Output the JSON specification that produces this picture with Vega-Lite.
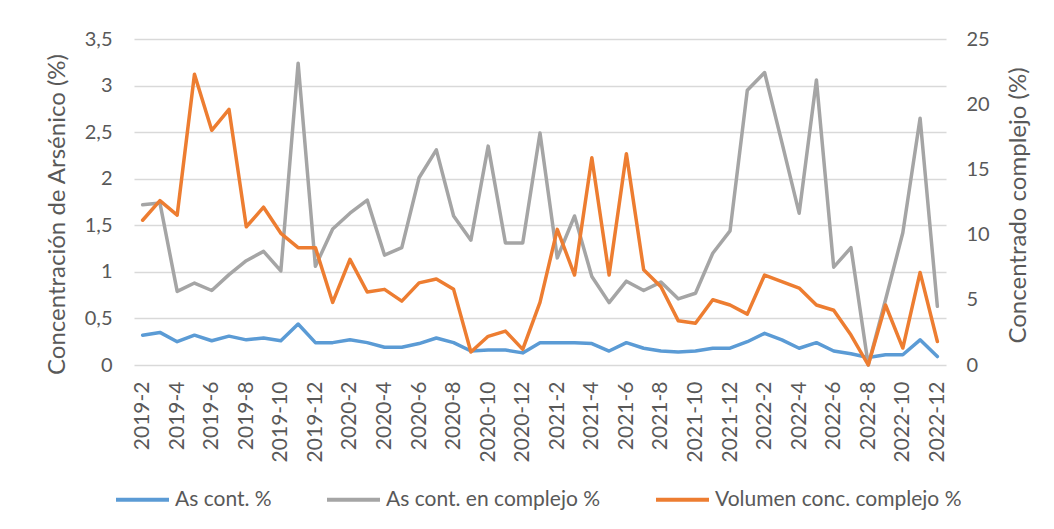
{
  "$schema": "https://vega.github.io/schema/vega-lite/v6.json",
  "width": 812,
  "height": 326,
  "autosize": {"type": "none"},
  "padding": {"left": 134, "top": 39, "right": 108, "bottom": 164},
  "background": "white",
  "config": {
    "font": "Lato",
    "view": {"stroke": null},
    "axis": {"labelColor": "#595959", "titleColor": "#595959", "titleFontWeight": "normal", "labelFont": "Lato", "titleFont": "Lato"},
    "legend": {"labelFont": "Lato"}
  },
  "data": {
    "values": [
      {"mes": "2019-2", "as_cont": 0.32, "as_compl": 1.72, "vol": 11.1},
      {"mes": "2019-3", "as_cont": 0.35, "as_compl": 1.74, "vol": 12.6},
      {"mes": "2019-4", "as_cont": 0.25, "as_compl": 0.79, "vol": 11.5},
      {"mes": "2019-5", "as_cont": 0.32, "as_compl": 0.88, "vol": 22.3},
      {"mes": "2019-6", "as_cont": 0.26, "as_compl": 0.80, "vol": 18.0},
      {"mes": "2019-7", "as_cont": 0.31, "as_compl": 0.97, "vol": 19.6},
      {"mes": "2019-8", "as_cont": 0.27, "as_compl": 1.12, "vol": 10.6},
      {"mes": "2019-9", "as_cont": 0.29, "as_compl": 1.22, "vol": 12.1},
      {"mes": "2019-10", "as_cont": 0.26, "as_compl": 1.01, "vol": 10.1},
      {"mes": "2019-11", "as_cont": 0.44, "as_compl": 3.24, "vol": 9.0},
      {"mes": "2019-12", "as_cont": 0.24, "as_compl": 1.06, "vol": 9.0},
      {"mes": "2020-1", "as_cont": 0.24, "as_compl": 1.46, "vol": 4.8},
      {"mes": "2020-2", "as_cont": 0.27, "as_compl": 1.63, "vol": 8.1},
      {"mes": "2020-3", "as_cont": 0.24, "as_compl": 1.77, "vol": 5.6},
      {"mes": "2020-4", "as_cont": 0.19, "as_compl": 1.18, "vol": 5.8},
      {"mes": "2020-5", "as_cont": 0.19, "as_compl": 1.26, "vol": 4.9},
      {"mes": "2020-6", "as_cont": 0.23, "as_compl": 2.01, "vol": 6.3},
      {"mes": "2020-7", "as_cont": 0.29, "as_compl": 2.31, "vol": 6.6},
      {"mes": "2020-8", "as_cont": 0.24, "as_compl": 1.60, "vol": 5.8},
      {"mes": "2020-9", "as_cont": 0.15, "as_compl": 1.34, "vol": 1.0},
      {"mes": "2020-10", "as_cont": 0.16, "as_compl": 2.35, "vol": 2.2},
      {"mes": "2020-11", "as_cont": 0.16, "as_compl": 1.31, "vol": 2.6},
      {"mes": "2020-12", "as_cont": 0.13, "as_compl": 1.31, "vol": 1.2},
      {"mes": "2021-1", "as_cont": 0.24, "as_compl": 2.49, "vol": 4.8},
      {"mes": "2021-2", "as_cont": 0.24, "as_compl": 1.15, "vol": 10.4},
      {"mes": "2021-3", "as_cont": 0.24, "as_compl": 1.60, "vol": 6.9},
      {"mes": "2021-4", "as_cont": 0.23, "as_compl": 0.95, "vol": 15.9},
      {"mes": "2021-5", "as_cont": 0.15, "as_compl": 0.67, "vol": 6.9},
      {"mes": "2021-6", "as_cont": 0.24, "as_compl": 0.90, "vol": 16.2},
      {"mes": "2021-7", "as_cont": 0.18, "as_compl": 0.80, "vol": 7.3},
      {"mes": "2021-8", "as_cont": 0.15, "as_compl": 0.89, "vol": 6.0},
      {"mes": "2021-9", "as_cont": 0.14, "as_compl": 0.71, "vol": 3.4},
      {"mes": "2021-10", "as_cont": 0.15, "as_compl": 0.77, "vol": 3.2},
      {"mes": "2021-11", "as_cont": 0.18, "as_compl": 1.20, "vol": 5.0},
      {"mes": "2021-12", "as_cont": 0.18, "as_compl": 1.44, "vol": 4.6},
      {"mes": "2022-1", "as_cont": 0.25, "as_compl": 2.95, "vol": 3.9},
      {"mes": "2022-2", "as_cont": 0.34, "as_compl": 3.14, "vol": 6.9},
      {"mes": "2022-3", "as_cont": 0.27, "as_compl": 2.39, "vol": 6.4},
      {"mes": "2022-4", "as_cont": 0.18, "as_compl": 1.63, "vol": 5.9},
      {"mes": "2022-5", "as_cont": 0.24, "as_compl": 3.06, "vol": 4.6},
      {"mes": "2022-6", "as_cont": 0.15, "as_compl": 1.05, "vol": 4.2},
      {"mes": "2022-7", "as_cont": 0.12, "as_compl": 1.26, "vol": 2.3},
      {"mes": "2022-8", "as_cont": 0.08, "as_compl": 0.0, "vol": 0.0},
      {"mes": "2022-9", "as_cont": 0.11, "as_compl": 0.70, "vol": 4.6},
      {"mes": "2022-10", "as_cont": 0.11, "as_compl": 1.42, "vol": 1.3},
      {"mes": "2022-11", "as_cont": 0.27, "as_compl": 2.65, "vol": 7.1},
      {"mes": "2022-12", "as_cont": 0.09, "as_compl": 0.63, "vol": 1.8}
    ]
  },
  "encoding": {
    "x": {
      "field": "mes",
      "type": "ordinal",
      "sort": null,
      "axis": {
        "title": null,
        "values": ["2019-2", "2019-4", "2019-6", "2019-8", "2019-10", "2019-12", "2020-2", "2020-4", "2020-6", "2020-8", "2020-10", "2020-12", "2021-2", "2021-4", "2021-6", "2021-8", "2021-10", "2021-12", "2022-2", "2022-4", "2022-6", "2022-8", "2022-10", "2022-12"],
        "labelAngle": -90,
        "labelFontSize": 21,
        "labelPadding": 16,
        "domain": false,
        "ticks": false,
        "grid": false
      }
    },
    "color": {
      "field": "serie",
      "type": "nominal",
      "scale": {"domain": ["as_cont", "as_compl", "vol"], "range": ["#5B9BD5", "#A5A5A5", "#ED7D31"]},
      "legend": {
        "title": null,
        "orient": "none",
        "legendX": -20,
        "legendY": 432,
        "direction": "horizontal",
        "symbolType": "stroke",
        "symbolSize": 2809,
        "symbolStrokeWidth": 4,
        "labelFontSize": 21,
        "labelColor": "#595959",
        "labelLimit": 0,
        "labelOffset": 4,
        "columnPadding": 47,
        "labelExpr": "datum.value == 'as_cont' ? 'As cont. %' : datum.value == 'as_compl' ? 'As cont. en complejo %' : 'Volumen conc. complejo %'"
      }
    }
  },
  "layer": [
    {
      "transform": [{"fold": ["as_cont", "as_compl"], "as": ["serie", "valor"]}],
      "mark": {"type": "line", "strokeWidth": 3.5, "strokeJoin": "round", "strokeCap": "round"},
      "encoding": {
        "y": {
          "field": "valor",
          "type": "quantitative",
          "scale": {"domain": [0, 3.5], "nice": false, "zero": true},
          "axis": {
            "orient": "left",
            "values": [0, 0.5, 1, 1.5, 2, 2.5, 3, 3.5],
            "labelExpr": "replace(toString(datum.value), '.', ',')",
            "grid": true,
            "gridColor": "#D9D9D9",
            "gridWidth": 1.3,
            "domain": false,
            "ticks": false,
            "labelPadding": 22,
            "labelFontSize": 20,
            "title": "Concentración de Arsénico (%)",
            "titleFontSize": 24,
            "titleX": -77,
            "titleY": 175,
            "titleBaseline": "middle"
          }
        }
      }
    },
    {
      "transform": [{"fold": ["vol"], "as": ["serie", "valor"]}],
      "mark": {"type": "line", "strokeWidth": 3.5, "strokeJoin": "round", "strokeCap": "round"},
      "encoding": {
        "y": {
          "field": "valor",
          "type": "quantitative",
          "scale": {"domain": [0, 25], "nice": false, "zero": true},
          "axis": {
            "orient": "right",
            "values": [0, 5, 10, 15, 20, 25],
            "grid": false,
            "domain": false,
            "ticks": false,
            "labelPadding": 20,
            "labelFontSize": 20,
            "title": "Concentrado complejo (%)",
            "titleFontSize": 24,
            "titleAngle": 270,
            "titleX": 72,
            "titleY": 166,
            "titleBaseline": "middle"
          }
        }
      }
    }
  ],
  "resolve": {"scale": {"y": "independent"}}
}
